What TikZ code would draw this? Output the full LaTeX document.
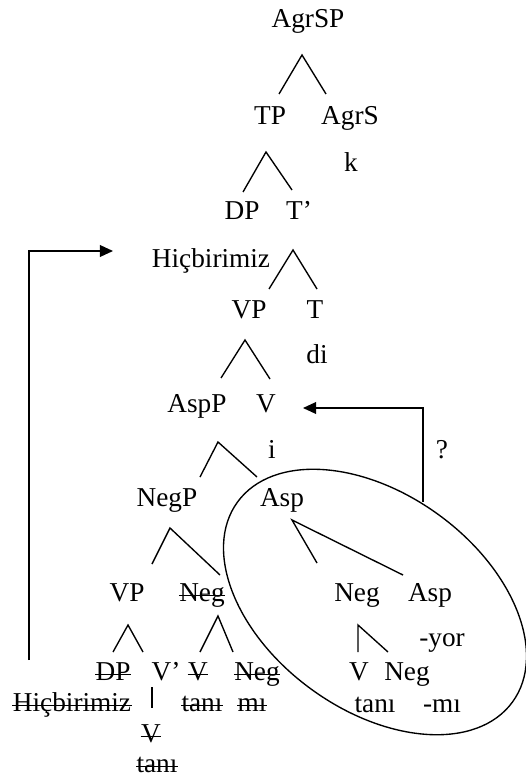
\documentclass[tikz,border=0pt]{standalone}
\usepackage{fontspec}
\setmainfont{Liberation Serif}
\usetikzlibrary{arrows.meta}

\begin{document}
\begin{tikzpicture}[x=0.44pt, y=-0.44pt,
        lab/.style={inner sep=0pt, anchor=base, font=\fontsize{12}{14}\selectfont},
        branch/.style={line width=0.6pt},
        move/.style={line width=0.6pt, -{Triangle[length=5.8pt, width=5.2pt]}}]
    \useasboundingbox (0,0) rectangle (525,778);

    % upper part of the tree
    \node[lab] (agrsp) at (308,28) {AgrSP};
    \node[lab] (tp) at (270,125) {TP};
    \node[lab] (agrs) at (350,125) {AgrS};
    \node[lab] (k) at (351,172) {k};
    \node[lab] (dp) at (242,220) {DP};
    \node[lab] (tbar) at (299,220) {T'};
    \node[lab] (hic) at (211,268) {Hiçbirimiz};
    \node[lab] (vp) at (249,318) {VP};
    \node[lab] (t) at (315,318) {T};
    \node[lab] (di) at (317,363) {di};
    \node[lab] (aspp) at (197,412) {AspP};
    \node[lab] (v) at (266,412) {V};
    \node[lab] (i) at (272,458) {i};
    \node[lab] (q) at (442,458) {?};
    \node[lab] (negp) at (167,506) {NegP};
    \node[lab] (asp) at (282,506) {Asp};

    % lower part, with the copies struck out
    \node[lab] (vpl) at (127,601) {VP};
    \node[lab] (negs) at (202,601) {Neg};
    \node[lab] (neg) at (357,601) {Neg};
    \node[lab] (aspi) at (430,601) {Asp};
    \node[lab] (yor) at (442,646) {-yor};
    \node[lab] (dps) at (113,680) {DP};
    \node[lab] (vbar) at (166,680) {V'};
    \node[lab] (vs) at (198,680) {V};
    \node[lab] (negs2) at (257,680) {Neg};
    \node[lab] (vi) at (359,680) {V};
    \node[lab] (negi) at (407,680) {Neg};
    \node[lab] (hics) at (72,711) {Hiçbirimiz};
    \node[lab] (tanis) at (202,711) {tanı};
    \node[lab] (mis) at (252,711) {mı};
    \node[lab] (tani) at (375,712) {tanı};
    \node[lab] (mi) at (442,712) {-mı};
    \node[lab] (vs2) at (151,742) {V};
    \node[lab] (tanis2) at (157,772) {tanı};

    % strike through the lower copies
    \foreach \n in {negs,dps,vs,negs2,hics,tanis,mis,vs2,tanis2}
        \draw[branch] (\n.mid west) -- (\n.mid east);

    % branches
    \coordinate (agrsp-top) at (302,55);
    \coordinate (tp-up) at (279,94);
    \coordinate (agrs-up) at (326,94);
    \draw[branch] (tp-up) -- (agrsp-top) -- (agrs-up);

    \coordinate (tp-top) at (266,152);
    \coordinate (dp-up) at (243,192);
    \coordinate (tbar-up) at (292,190);
    \draw[branch] (dp-up) -- (tp-top) -- (tbar-up);

    \coordinate (tbar-top) at (293,250);
    \coordinate (vp-up) at (269,289);
    \coordinate (t-up) at (317,289);
    \draw[branch] (vp-up) -- (tbar-top) -- (t-up);

    \coordinate (vp-top) at (245,340);
    \coordinate (aspp-up) at (221,378);
    \coordinate (v-up) at (270,379);
    \draw[branch] (aspp-up) -- (vp-top) -- (v-up);

    \coordinate (aspp-top) at (218,442);
    \coordinate (negp-up) at (200,477);
    \coordinate (asp-up) at (257,477);
    \draw[branch] (negp-up) -- (aspp-top) -- (asp-up);

    \coordinate (negp-top) at (170,528);
    \coordinate (vpl-up) at (152,564);
    \coordinate (negs-up) at (220,575);
    \draw[branch] (vpl-up) -- (negp-top) -- (negs-up);

    \coordinate (asp-top) at (292,520);
    \coordinate (neg-up) at (317,563);
    \coordinate (aspi-up) at (403,575);
    \draw[branch] (neg-up) -- (asp-top) -- (aspi-up);

    \coordinate (vpl-top) at (128,625);
    \coordinate (dps-up) at (113,652);
    \coordinate (vbar-up) at (143,652);
    \draw[branch] (dps-up) -- (vpl-top) -- (vbar-up);

    \coordinate (negs-top) at (218,616);
    \coordinate (vs-up) at (200,652);
    \coordinate (negs2-up) at (233,652);
    \draw[branch] (vs-up) -- (negs-top) -- (negs2-up);

    \coordinate (neg-top) at (358,625);
    \coordinate (vi-up) at (358,652);
    \coordinate (negi-up) at (388,652);
    \draw[branch] (vi-up) -- (neg-top) -- (negi-up);

    \coordinate (vbar-down) at (152,687);
    \coordinate (vs2-up) at (152,708);
    \draw[branch] (vbar-down) -- (vs2-up);

    % the moved pieces
    \draw[branch, rotate around={-36:(375,602)}] (375,602) ellipse [x radius=170, y radius=108];

    \coordinate (hics-out) at (29,660);
    \coordinate (hic-in) at (113,251);
    \draw[move] (hics-out) |- (hic-in);

    \coordinate (asp-out) at (423,502);
    \coordinate (v-in) at (303,408);
    \draw[move] (asp-out) |- (v-in);
\end{tikzpicture}
\end{document}
